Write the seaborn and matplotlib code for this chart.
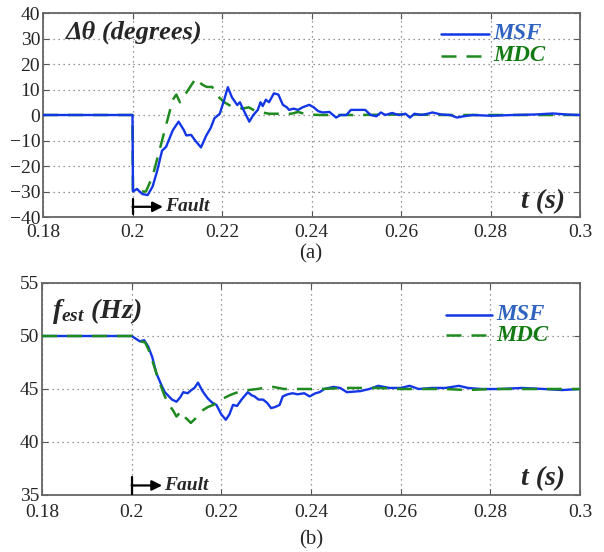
import numpy as np
import pandas as pd
import matplotlib
matplotlib.use("Agg")
import matplotlib.pyplot as plt
import seaborn as sns

# ---- data ----
t_theta_msf = [0.18, 0.2, 0.2001, 0.201, 0.2022, 0.2034, 0.2045, 0.2055, 0.2066, 0.2075, 0.209, 0.2103,
               0.2115, 0.212, 0.2131, 0.214, 0.2153, 0.2165, 0.2175, 0.2183, 0.2195, 0.2205, 0.2213, 0.2222,
               0.2234, 0.224, 0.2248, 0.2261, 0.227, 0.228, 0.2286, 0.2291, 0.2298, 0.2305, 0.2316, 0.2326,
               0.2336, 0.2345, 0.235, 0.236, 0.237, 0.238, 0.2395, 0.2405, 0.2415, 0.2425, 0.244, 0.2455,
               0.2465, 0.2478, 0.2488, 0.252, 0.2532, 0.2545, 0.2555, 0.2565, 0.258, 0.2595, 0.261, 0.262,
               0.263, 0.2645, 0.266, 0.267, 0.269, 0.271, 0.2725, 0.274, 0.276, 0.28, 0.285, 0.29, 0.294,
               0.297, 0.3]
theta_msf = [0, 0, -30, -29, -31, -31.4, -28, -22, -14, -12.5, -6, -2.6,
             -6, -8, -7.8, -10, -12.7, -8, -5, -1.3, 0.5, 6, 10.9, 7,
             3.9, 5, 2, -2.6, 0, 2, 5, 3.5, 6, 5, 8.5, 8,
             4, 3, 2, 2.5, 2, 3, 4, 3, 1.5, 1, 1.2, -1,
             0, 0, 2, 2, 0, -0.5, 1, 0, 0.8, 0, 0.5, -1,
             0.5, 0, 0.5, 1, 0.2, 0, -1, -0.5, 0, -0.3, 0, 0.2, 0.6,
             0.2, 0]

t_theta_mdc = [0.18, 0.2, 0.2001, 0.203, 0.2045, 0.206, 0.2075, 0.209, 0.2098, 0.2106, 0.2125, 0.2142,
               0.2155, 0.2166, 0.2178, 0.219, 0.2205, 0.222, 0.2235, 0.2245, 0.226, 0.2275, 0.229, 0.2305,
               0.233, 0.2355, 0.237, 0.239, 0.242, 0.25, 0.26, 0.27, 0.28, 0.29, 0.3]
theta_mdc = [0, 0, -30, -30, -24, -14, -4, 6, 8, 5, 10, 14.5,
             12, 11, 11, 7.5, 5, 3.5, 3, 2.5, 3, 1.5, 1, 0.5,
             0.5, 0.5, 1.2, 0.2, 0, 0, 0.2, 0, 0, 0, 0]

t_f_msf = [0.18, 0.2, 0.2018, 0.2028, 0.2037, 0.2046, 0.2055, 0.2065, 0.2074, 0.209, 0.21, 0.2108,
           0.2115, 0.2125, 0.2133, 0.214, 0.2148, 0.2158, 0.217, 0.218, 0.2189, 0.22, 0.221, 0.2218,
           0.2226, 0.2235, 0.2245, 0.2259, 0.2268, 0.2274, 0.2283, 0.2293, 0.2302, 0.2311, 0.232, 0.233,
           0.2337, 0.2348, 0.2359, 0.237, 0.2385, 0.2397, 0.241, 0.2419, 0.243, 0.245, 0.2465, 0.248,
           0.251, 0.253, 0.255, 0.2575, 0.26, 0.262, 0.264, 0.267, 0.27, 0.273, 0.275, 0.278, 0.282,
           0.287, 0.292, 0.296, 0.3]
f_msf = [50, 50, 49.5, 49.6, 49.0, 48.0, 46.5, 45.5, 44.7, 44.0, 43.8, 44.2,
         44.7, 44.6, 44.9, 45.1, 45.6, 44.8, 44.1, 43.7, 43.5, 42.6, 42.1, 42.6,
         43.5, 43.4, 44.0, 44.7, 44.4, 44.3, 44.0, 44.0, 43.7, 43.2, 43.3, 43.5,
         44.3, 44.5, 44.6, 44.5, 44.6, 44.3, 44.6, 44.7, 45.0, 45.2, 45.1, 44.7,
         44.8, 45.0, 45.3, 45.1, 45.1, 45.3, 45.0, 45.1, 45.1, 45.3, 45.1, 45.0, 45.0,
         45.1, 45.0, 44.9, 45.0]

t_f_mdc = [0.18, 0.2, 0.2018, 0.203, 0.204, 0.2055, 0.2065, 0.2074, 0.2083, 0.2092, 0.21, 0.211,
           0.212, 0.2132, 0.2142, 0.2155, 0.217, 0.2182, 0.2194, 0.2204, 0.2218, 0.223, 0.2245, 0.226,
           0.228, 0.2295, 0.2315, 0.234, 0.238, 0.242, 0.248, 0.255, 0.26, 0.265, 0.27, 0.275, 0.28,
           0.29, 0.3]
f_mdc = [50, 50, 49.5, 49.4, 48.5, 46.5, 45.3, 44.3, 43.5, 43.0, 42.4, 42.9,
         42.3, 41.8, 42.2, 42.9, 43.3, 43.5, 43.9, 44.1, 44.4, 44.6, 44.8, 44.9,
         45.0, 45.1, 45.2, 45.0, 45.0, 45.0, 45.1, 45.1, 45.0, 45.0, 45.0, 44.9, 45.0,
         45.0, 45.0]

x_ticks = [0.18, 0.2, 0.22, 0.24, 0.26, 0.28, 0.3]
x_tick_labels = ["0.18", "0.2", "0.22", "0.24", "0.26", "0.28", "0.3"]
theta_ticks = [-40, -30, -20, -10, 0, 10, 20, 30, 40]
f_ticks = [35, 40, 45, 50, 55]

# ---- style ----
sns.set_style("white")
plt.rcParams["font.family"] = ["Liberation Serif", "DejaVu Serif"]
plt.rcParams["mathtext.fontset"] = "custom"
plt.rcParams["mathtext.it"] = "Liberation Serif:italic:bold"
plt.rcParams["mathtext.rm"] = "Liberation Serif:bold"
plt.rcParams["mathtext.bf"] = "Liberation Serif:bold"

BLUE = "#1437e6"
GREEN = "#1f8a1f"
BLUE_TXT = "#2f63c0"
GREEN_TXT = "#137a13"

fig = plt.figure(figsize=(6.04, 5.52), dpi=100)
ax1 = fig.add_axes([43 / 604, 1 - 217 / 552, 537 / 604, 204 / 552])
ax2 = fig.add_axes([42 / 604, 1 - 495 / 552, 538 / 604, 212 / 552])

df_t_msf = pd.DataFrame({"t": t_theta_msf, "v": theta_msf})
df_t_mdc = pd.DataFrame({"t": t_theta_mdc, "v": theta_mdc})
df_f_msf = pd.DataFrame({"t": t_f_msf, "v": f_msf})
df_f_mdc = pd.DataFrame({"t": t_f_mdc, "v": f_mdc})

# top: green under blue
sns.lineplot(data=df_t_mdc, x="t", y="v", ax=ax1, color=GREEN, lw=1.8, sort=False,
             estimator=None, zorder=3)
ax1.lines[-1].set_dashes((6, 4))
sns.lineplot(data=df_t_msf, x="t", y="v", ax=ax1, color=BLUE, lw=1.7, sort=False,
             estimator=None, zorder=4)

# bottom: green over blue
sns.lineplot(data=df_f_msf, x="t", y="v", ax=ax2, color=BLUE, lw=1.7, sort=False,
             estimator=None, zorder=3)
sns.lineplot(data=df_f_mdc, x="t", y="v", ax=ax2, color=GREEN, lw=1.8, sort=False,
             estimator=None, zorder=4)
ax2.lines[-1].set_dashes((6, 4))

for ax, yt, ylim, xpad in [(ax1, theta_ticks, (-40, 40), 5), (ax2, f_ticks, (35, 55), 6.5)]:
    ax.set_xlim(0.18, 0.3)
    ax.set_ylim(*ylim)
    ax.set_xticks(x_ticks)
    ax.set_xticklabels(x_tick_labels)
    ax.set_yticks(yt)
    ax.set_xlabel("")
    ax.set_ylabel("")
    ax.grid(True, linestyle=(0, (1, 3)), color="#777777", lw=0.9)
    ax.tick_params(direction="in", length=4, width=0.8, color="#555555",
                   labelsize=14, top=True, right=True, left=True, bottom=True)
    ax.tick_params(axis="x", pad=xpad)
    ax.tick_params(axis="y", pad=2)
    for s in ax.spines.values():
        s.set_color("#666666")
        s.set_linewidth(1.3)

# legends (manual, colored text like the original)
ax1.plot([0.742, 0.830], [0.895, 0.895], transform=ax1.transAxes, color=BLUE, lw=1.8)
ax1.plot([0.742, 0.830], [0.790, 0.790], transform=ax1.transAxes, color=GREEN, lw=1.8, dashes=(6, 4))
ax1.text(0.838, 0.898, "MSF", transform=ax1.transAxes, color=BLUE_TXT, fontsize=16.5,
         fontstyle="italic", fontweight="bold", va="center", ha="left")
ax1.text(0.838, 0.790, "MDC", transform=ax1.transAxes, color=GREEN_TXT, fontsize=16.5,
         fontstyle="italic", fontweight="bold", va="center", ha="left")

ax2.plot([0.75, 0.836], [0.849, 0.849], transform=ax2.transAxes, color=BLUE, lw=1.8)
ax2.plot([0.75, 0.836], [0.755, 0.755], transform=ax2.transAxes, color=GREEN, lw=1.8, dashes=(6, 4))
ax2.text(0.844, 0.852, "MSF", transform=ax2.transAxes, color=BLUE_TXT, fontsize=16.5,
         fontstyle="italic", fontweight="bold", va="center", ha="left")
ax2.text(0.844, 0.752, "MDC", transform=ax2.transAxes, color=GREEN_TXT, fontsize=16.5,
         fontstyle="italic", fontweight="bold", va="center", ha="left")

# titles
ax1.text(0.043, 0.905, "Δθ (degrees)", transform=ax1.transAxes, fontsize=19,
         fontstyle="italic", fontweight="bold", va="center", ha="left")
ax2.text(0.018, 0.87, r"$f_{est}$ (Hz)", transform=ax2.transAxes, fontsize=20,
         fontstyle="italic", fontweight="bold", va="center", ha="left")

for ax in (ax1, ax2):
    ax.text(0.972, 0.075, "t (s)", transform=ax.transAxes, fontsize=20,
            fontstyle="italic", fontweight="bold", va="center", ha="right")

# fault arrows
for ax, yv, yl in [(ax1, -36, 3.0), (ax2, 35.9, 0.8)]:
    ax.annotate("", xy=(0.2068, yv), xytext=(0.2, yv),
                arrowprops=dict(arrowstyle="-|>,head_length=0.6,head_width=0.3", color="black", lw=1.6,
                                shrinkA=0, shrinkB=0), zorder=6)
    ax.plot([0.2, 0.2], [yv - yl, yv + yl], color="black", lw=1.6, zorder=6)
    ax.text(0.2072, yv, "Fault", fontsize=14, fontstyle="italic", fontweight="bold",
            va="center", ha="left", zorder=6)

fig.text(311 / 604, 1 - 254 / 552, "(a)", ha="center", va="center", fontsize=15)
fig.text(311 / 604, 1 - 540 / 552, "(b)", ha="center", va="center", fontsize=15)

fig.savefig("out.png", dpi=100)
